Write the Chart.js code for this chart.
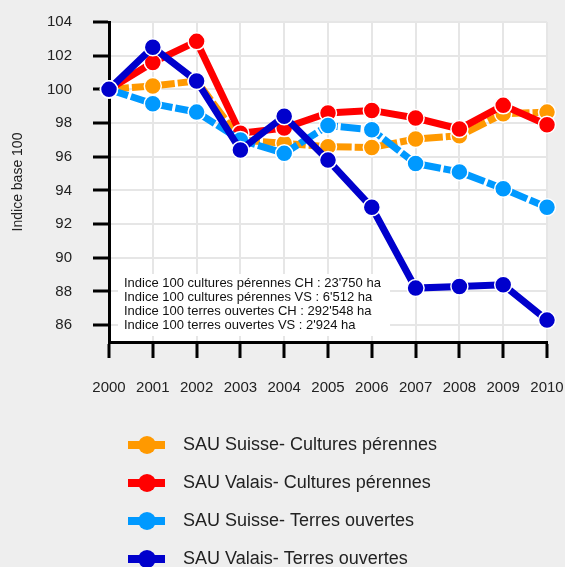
<!DOCTYPE html>
<html>
<head>
<meta charset="utf-8">
<script src="https://cdn.jsdelivr.net/npm/chart.js@4"></script>
<style>
  body { margin: 0; background: #eeeeee; }
  canvas { display: block; }
</style>
</head>
<body>
<canvas id="graficoSau" width="565" height="567"></canvas>
<script>
const annees = ["2000", "2001", "2002", "2003", "2004", "2005", "2006", "2007", "2008", "2009", "2010"];
const suisseCultures = [100, 100.2, 100.5, 97.0, 96.8, 96.6, 96.55, 97.05, 97.25, 98.55, 98.65];
const valaisCultures = [100, 101.6, 102.85, 97.4, 97.7, 98.6, 98.75, 98.3, 97.65, 99.05, 97.9];
const suisseTerres = [100, 99.15, 98.65, 97.0, 96.2, 97.85, 97.6, 95.6, 95.1, 94.1, 93.0];
const valaisTerres = [100, 102.5, 100.5, 96.4, 98.4, 95.8, 93.0, 88.2, 88.3, 88.4, 86.3];
const ticksY = [86, 88, 90, 92, 94, 96, 98, 100, 102, 104];
const notes = [
  "Indice 100 cultures pérennes CH : 23'750 ha",
  "Indice 100 cultures pérennes VS : 6'512 ha",
  "Indice 100 terres ouvertes CH : 292'548 ha",
  "Indice 100 terres ouvertes VS : 2'924 ha"
];

const police = "'Liberation Sans', Arial, sans-serif";
Chart.defaults.font.family = police;
Chart.defaults.color = "#222";

function serie(label, data, couleur, ordre, tirets) {
  return {
    label: label,
    data: data,
    borderColor: couleur,
    backgroundColor: couleur,
    pointBackgroundColor: couleur,
    pointBorderColor: "#ffffff",
    pointBorderWidth: 1.5,
    pointRadius: 8.5,
    borderWidth: 7,
    borderDash: tirets,
    tension: 0,
    order: ordre,
    clip: false
  };
}

// fond blanc de la zone du graphique
const fondPlugin = {
  id: "fond",
  beforeDraw(chart) {
    const a = chart.chartArea;
    const c = chart.ctx;
    c.save();
    c.fillStyle = "#ffffff";
    c.fillRect(a.left, a.top, a.right - a.left, a.bottom - a.top);
    c.restore();
  }
};

// boite de texte sur le graphique
const notesPlugin = {
  id: "notes",
  beforeDatasetsDraw(chart) {
    const c = chart.ctx;
    c.save();
    c.fillStyle = "#ffffff";
    c.fillRect(118, 274, 272, 62);
    c.fillStyle = "#111";
    c.font = "13px " + police;
    c.textBaseline = "middle";
    notes.forEach((t, i) => c.fillText(t, 124, 283 + i * 14.3));
    c.restore();
  }
};

// legende avec ligne + point
const legendePlugin = {
  id: "legende",
  afterDraw(chart) {
    const c = chart.ctx;
    chart.data.datasets.forEach((ds, i) => {
      const y = 445 + i * 38;
      c.save();
      c.strokeStyle = ds.borderColor;
      c.lineWidth = 8;
      c.setLineDash(ds.borderDash || []);
      c.beginPath();
      c.moveTo(128, y);
      c.lineTo(165, y);
      c.stroke();
      c.setLineDash([]);
      c.fillStyle = ds.borderColor;
      c.beginPath();
      c.arc(147, y, 9, 0, Math.PI * 2);
      c.fill();
      c.fillStyle = "#222";
      c.font = "18px " + police;
      c.textBaseline = "middle";
      c.fillText(ds.label, 183, y);
      c.restore();
    });
  }
};

const ctx = document.querySelector("#graficoSau");

new Chart(ctx, {
  type: "line",
  data: {
    labels: annees,
    datasets: [
      serie("SAU Suisse- Cultures pérennes", suisseCultures, "#ff9900", 3, [20, 3]),
      serie("SAU Valais- Cultures pérennes", valaisCultures, "#ff0000", 2, []),
      serie("SAU Suisse- Terres ouvertes", suisseTerres, "#0099ff", 1, [20, 3]),
      serie("SAU Valais- Terres ouvertes", valaisTerres, "#0000cc", 0, [])
    ]
  },
  options: {
    responsive: false,
    animation: false,
    events: [],
    layout: { autoPadding: false, padding: { left: 0, top: 22, right: 18, bottom: 165 } },
    plugins: {
      legend: { display: false },
      tooltip: { enabled: false }
    },
    scales: {
      x: {
        offset: false,
        grid: { color: "#e6e6e6", lineWidth: 2, tickColor: "#000", tickWidth: 3, tickLength: 16 },
        border: { color: "#000", width: 3 },
        ticks: { font: { size: 15 }, padding: 21, maxRotation: 0, color: "#222" },
        afterFit(scale) {
          scale.height = 60;
          scale.paddingLeft = 0;
          scale.paddingRight = 0;
        }
      },
      y: {
        min: 85,
        max: 104,
        afterBuildTicks(scale) { scale.ticks = ticksY.map(v => ({ value: v })); },
        grid: { color: "#e6e6e6", lineWidth: 2, tickColor: "#000", tickWidth: 3, tickLength: 16 },
        border: { color: "#000", width: 3 },
        ticks: { font: { size: 15 }, padding: 21, color: "#222" },
        title: { display: true, text: "Indice base 100", font: { size: 14 }, color: "#222", padding: { top: 10, bottom: 0 } },
        afterFit(scale) {
          scale.width = 109;
          scale.paddingTop = 0;
          scale.paddingBottom = 0;
        }
      }
    }
  },
  plugins: [fondPlugin, notesPlugin, legendePlugin]
});
</script>
</body>
</html>
